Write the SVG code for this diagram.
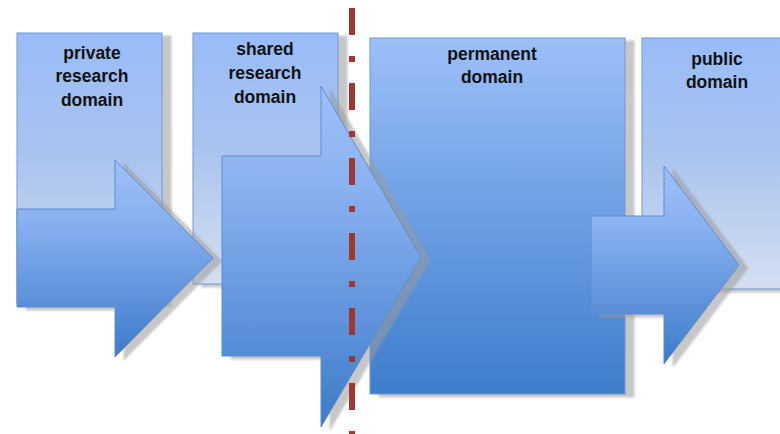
<svg xmlns="http://www.w3.org/2000/svg" width="780" height="434" viewBox="0 0 780 434">
<defs>
<linearGradient id="gLight" x1="0" y1="0" x2="0" y2="1">
<stop offset="0" stop-color="#98bcf8"/>
<stop offset="0.45" stop-color="#a9c3ef"/>
<stop offset="1" stop-color="#d4dff0"/>
</linearGradient>
<linearGradient id="gDark" x1="0" y1="0" x2="0" y2="1">
<stop offset="0" stop-color="#9cc0fa"/>
<stop offset="1" stop-color="#3d7dcb"/>
</linearGradient>
<linearGradient id="gArrow" x1="0" y1="0" x2="0" y2="1">
<stop offset="0" stop-color="#9cc0fa"/>
<stop offset="0.3" stop-color="#8ab1f0"/>
<stop offset="1" stop-color="#3c7bca"/>
</linearGradient>
<filter id="sh" x="-10%" y="-10%" width="130%" height="130%">
<feDropShadow dx="9" dy="3" stdDeviation="0.8" flood-color="#9a9a9a" flood-opacity="0.55"/>
</filter>
</defs>
<style>
.box{stroke:#6e98d2;stroke-width:1;filter:url(#sh)}
.light{fill:url(#gLight)}
.dark{fill:url(#gDark)}
.arrow{fill:url(#gArrow);stroke:#5d8dcc;stroke-width:1;filter:url(#sh)}
.lbl{font-family:"Liberation Sans",Arial,sans-serif;font-weight:bold;font-size:17.5px;fill:#111;text-anchor:middle}
.div{stroke:#9e3833;stroke-width:6;stroke-dasharray:27 21 6 21;fill:none}
</style>
<rect width="780" height="434" fill="#ffffff"/>
<g id="private-research-domain">
<rect class="box light" x="17" y="33" width="145" height="270"/>
<text class="lbl" x="92" y="59">private</text>
<text class="lbl" x="92" y="82">research</text>
<text class="lbl" x="92" y="106">domain</text>
</g>
<g id="shared-research-domain">
<rect class="box light" x="193" y="33" width="145" height="251"/>
<text class="lbl" x="265" y="55">shared</text>
<text class="lbl" x="265" y="79">research</text>
<text class="lbl" x="265" y="103">domain</text>
</g>
<g id="permanent-domain">
<rect class="box dark" x="370" y="38" width="255" height="356"/>
<text class="lbl" x="492" y="60">permanent</text>
<text class="lbl" x="492" y="83">domain</text>
</g>
<g id="public-domain">
<rect class="box light" x="642" y="38" width="150" height="251"/>
<text class="lbl" x="717" y="65">public</text>
<text class="lbl" x="717" y="88">domain</text>
</g>
<g id="connectors">
<polygon id="arrow-1" class="arrow" points="17,209 115,209 115,160 213,258 115,357 115,307 17,307"/>
<polygon id="arrow-2" class="arrow" points="222,156 321,156 321,86 421,257 321,427 321,356 222,356"/>
<polygon id="arrow-3" class="arrow" points="591,216 664,216 664,166 739,265 664,364 664,314 591,314"/>
<line id="boundary" class="div" x1="352" y1="8" x2="352" y2="434"/>
</g>
</svg>
